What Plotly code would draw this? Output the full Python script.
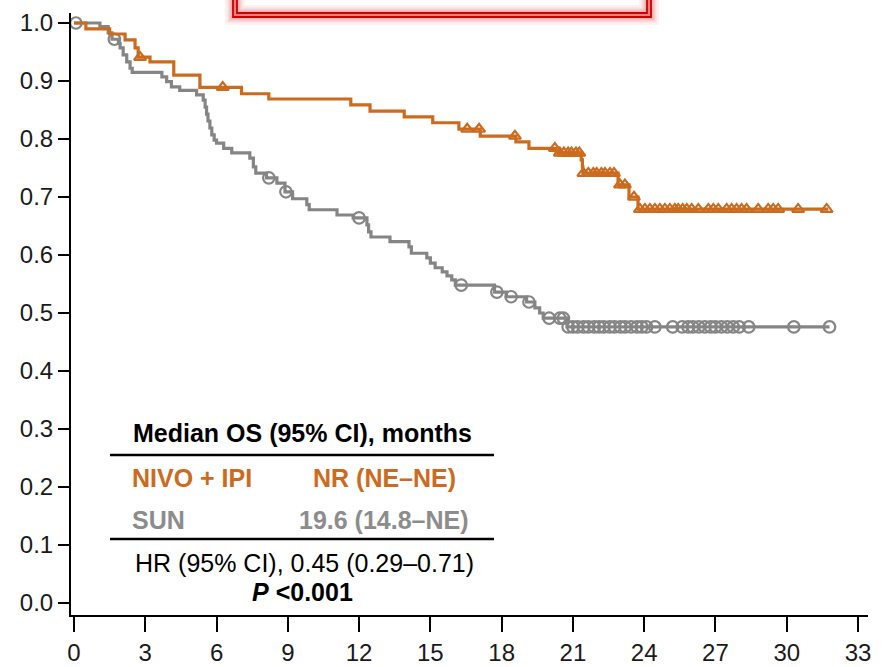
import numpy as np
import plotly.graph_objects as go

# ---------------- data ----------------
nivo_time = [0, 0.5, 1.5, 2.15, 2.57, 2.7, 3.2, 4.2, 5.3, 7.05, 8.2, 11.65, 12.46, 13.9,
             15.1, 16.2, 17.1, 18.6, 19.15, 20.29, 21.35, 21.4, 21.42, 22.9, 23.36, 23.74, 31.75]
nivo_surv = [1.0, 0.990, 0.981, 0.971, 0.957, 0.941, 0.933, 0.910, 0.889, 0.878, 0.869, 0.859, 0.848, 0.838,
             0.828, 0.817, 0.805, 0.795, 0.784, 0.776, 0.764, 0.752, 0.741, 0.721, 0.700, 0.679, 0.679]
nivo_censor = [2.78, 6.26, 16.55, 17.05, 18.56, 20.24, 20.45, 20.62, 20.8, 20.94, 21.13, 21.27,
               21.44, 21.65, 21.86, 22.0, 22.2, 22.35, 22.56, 22.73, 22.98, 23.19, 23.57,
               23.82, 24.03, 24.24, 24.45, 24.66, 24.87, 25.08, 25.29, 25.43, 25.62, 25.79, 26.0,
               26.28, 26.7, 26.91, 27.12, 27.47, 27.68, 27.89, 28.1, 28.31, 28.8, 29.22, 29.43,
               29.64, 30.48, 31.68]

sun_time = [0, 1.09, 1.44, 1.6, 1.87, 1.94, 2.07, 2.22, 2.36, 2.45, 3.7, 3.9, 4.1, 4.45, 5.16, 5.44,
            5.52, 5.58, 5.64, 5.72, 5.8, 5.9, 6.0, 6.3, 6.64, 7.4, 7.55, 7.65, 8.1, 8.54, 8.88, 9.2,
            9.8, 9.9, 11.07, 11.75, 12.33, 12.4, 12.5, 13.3, 14.1, 14.2, 14.85, 15.0, 15.2, 15.5,
            15.7, 15.9, 16.05, 17.7, 18.2, 19.05, 19.4, 19.6, 19.75, 20.75, 31.8]
sun_surv = [1.0, 0.994, 0.983, 0.972, 0.965, 0.957, 0.945, 0.933, 0.922, 0.915, 0.907, 0.899, 0.890,
            0.884, 0.876, 0.867, 0.855, 0.843, 0.831, 0.819, 0.807, 0.798, 0.793, 0.784, 0.776, 0.767,
            0.752, 0.741, 0.733, 0.724, 0.709, 0.697, 0.687, 0.678, 0.669, 0.664, 0.652, 0.640, 0.631,
            0.623, 0.614, 0.603, 0.595, 0.586, 0.578, 0.571, 0.564, 0.557, 0.548, 0.536, 0.528, 0.519,
            0.509, 0.500, 0.491, 0.476, 0.476]
sun_censor = [0.08, 1.7, 8.2, 8.92, 12.0, 16.3, 17.8, 18.4, 19.15, 20.0, 20.45, 20.6,
              20.8, 21.0, 21.2, 21.45, 21.65, 21.9, 22.1, 22.3, 22.55, 22.75, 23.0, 23.2, 23.45,
              23.7, 23.9, 24.1, 24.45, 25.2, 25.6, 25.85, 26.05, 26.3, 26.55, 26.8, 27.0, 27.25,
              27.5, 27.75, 28.0, 28.4, 30.3, 31.8]

x_ticks = list(range(0, 34, 3))
y_ticks = [round(v * 0.1, 1) for v in range(11)]
y_tick_labels = [f"{v:.1f}" for v in y_ticks]

ORANGE = "#CC6A1E"
GRAY = "#858585"
GRAY_TXT = "#8C8C8C"
FONT = "Arial, Liberation Sans, sans-serif"

W, H = 885, 667


def step_at(times, survs, t):
    idx = np.searchsorted(np.asarray(times), t, side="right") - 1
    return np.asarray(survs)[idx]


fig = go.Figure()
fig.add_trace(go.Scatter(x=sun_time, y=sun_surv, mode="lines", line=dict(color=GRAY, width=3.2, shape="hv"),
                         hoverinfo="skip", showlegend=False))
fig.add_trace(go.Scatter(x=sun_censor, y=[step_at(sun_time, sun_surv, t) for t in sun_censor], mode="markers",
                         marker=dict(symbol="circle-open", size=11.5, color=GRAY, line=dict(width=2.2)),
                         showlegend=False))
fig.add_trace(go.Scatter(x=nivo_time, y=nivo_surv, mode="lines", line=dict(color=ORANGE, width=3.2, shape="hv"),
                         hoverinfo="skip", showlegend=False))
fig.add_trace(go.Scatter(x=nivo_censor, y=[step_at(nivo_time, nivo_surv, t) for t in nivo_censor], mode="markers",
                         marker=dict(symbol="triangle-up-open", size=10.5, color=ORANGE, line=dict(width=2.2)),
                         showlegend=False))


def px(x):
    return x / W


def py(y):
    return 1 - y / H


shapes = []
# red double-lined glowing box at the top
for w, a in [(20, 0.06), (15, 0.10), (11, 0.14), (7, 0.20), (4, 0.25)]:
    shapes.append(dict(type="rect", xref="paper", yref="paper", x0=px(235), x1=px(649), y0=py(15), y1=py(-40),
                       line=dict(color=f"rgba(215,30,30,{a})", width=w), fillcolor="rgba(0,0,0,0)"))
for (l, r, b) in [(233, 651, 17), (237, 647, 13)]:
    shapes.append(dict(type="rect", xref="paper", yref="paper", x0=px(l), x1=px(r), y0=py(b), y1=py(-40),
                       line=dict(color="#D00000", width=1.8), fillcolor="rgba(0,0,0,0)"))
# table rules
for yy in [455, 539]:
    shapes.append(dict(type="line", xref="paper", yref="paper", x0=px(110), x1=px(494), y0=py(yy), y1=py(yy),
                       line=dict(color="black", width=2.5)))

ann = []


def add(text, x, y, color="black", xanchor="center", size=25):
    ann.append(dict(text=text, x=px(x), y=py(y), xref="paper", yref="paper", showarrow=False,
                    xanchor=xanchor, yanchor="middle", font=dict(family=FONT, size=size, color=color)))


add("<b>Median OS (95% CI), months</b>", 302, 433)
add("<b>NIVO + IPI</b>", 130, 478, ORANGE, "left")
add("<b>NR (NE–NE)</b>", 384, 478, ORANGE)
add("<b>SUN</b>", 130, 520, GRAY_TXT, "left")
add("<b>19.6 (14.8–NE)</b>", 384, 520, GRAY_TXT)
add("HR (95% CI), 0.45 (0.29–0.71)", 304, 563)
add("<b><i>P</i> &lt;0.001</b>", 302, 592)

x_l, x_r = 71, 868   # pixel extents of the x axis line
t0_px, t33_px = 74, 858
ppm = (t33_px - t0_px) / 33
y_top, y_bot = 13, 615
s1_px, s0_px = 23, 603
pps = (s0_px - s1_px)

fig.update_layout(
    width=W, height=H, margin=dict(l=0, r=0, t=0, b=0),
    paper_bgcolor="white", plot_bgcolor="white",
    shapes=shapes, annotations=ann,
    xaxis=dict(domain=[px(x_l), px(x_r)],
               range=[(x_l - t0_px) / ppm, (x_r - t0_px) / ppm],
               tickvals=x_ticks, ticks="outside", ticklen=15, tickwidth=2, tickcolor="black",
               showline=True, linecolor="black", linewidth=2, showgrid=False, zeroline=False,
               tickfont=dict(family=FONT, size=24, color="#1a1a1a"), automargin=False),
    yaxis=dict(domain=[1 - y_bot / H, 1 - y_top / H],
               range=[(s0_px - y_bot) / pps, (s0_px - y_top) / pps],
               tickvals=y_ticks, ticktext=y_tick_labels, ticks="outside", ticklen=11, tickwidth=2,
               tickcolor="black", showline=True, linecolor="black", linewidth=2, showgrid=False,
               zeroline=False, tickfont=dict(family=FONT, size=24, color="#1a1a1a"), automargin=False),
)

fig.write_html("out.html")
